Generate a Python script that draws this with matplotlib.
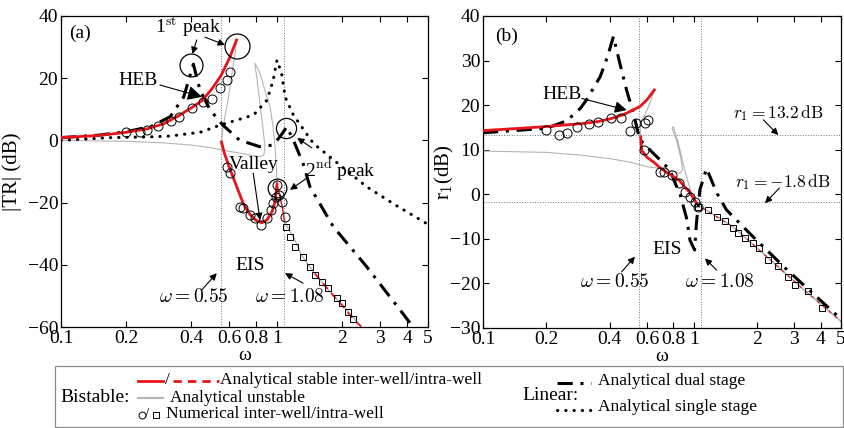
import numpy as np
import matplotlib
matplotlib.use("Agg")
import matplotlib.pyplot as plt
from matplotlib.lines import Line2D
from matplotlib.patches import Rectangle

plt.rcParams['font.family'] = ['Liberation Serif', 'DejaVu Serif']
plt.rcParams['mathtext.fontset'] = 'cm'

W, H = 844, 428

# ---------------- panel (a) data ----------------
a_red_up_w = [0.1, 0.15, 0.2, 0.25, 0.3, 0.35, 0.4, 0.45, 0.5, 0.55, 0.6, 0.65]
a_red_up_v = [0.9, 1.6, 2.6, 3.7, 5.4, 7.9, 10.4, 12.8, 16.6, 20.8, 26.2, 32.3]
a_red_low_w = [0.553, 0.57, 0.6, 0.62, 0.66, 0.7, 0.75, 0.8, 0.85, 0.9, 0.95, 0.98, 1.0]
a_red_low_v = [-0.5, -4.0, -8.5, -11.0, -16.0, -20.5, -23.8, -25.7, -26.5, -25.5, -22.8, -19.7, -14.0]
a_red_intra_w = [1.0, 1.03, 1.06, 1.08]
a_red_intra_v = [-14.0, -18.0, -22.0, -26.0]
a_red_tail_w = [1.5, 1.75, 2.0, 2.25, 2.47]
a_red_tail_v = [-42.8, -48.5, -53.0, -57.5, -60.0]
a_gray_w = [0.1, 0.2, 0.3, 0.4, 0.5, 0.55, 0.6, 0.7, 0.78, 0.84, 0.87, 0.88, 0.86, 0.834,
            0.81, 0.79, 0.81, 0.834, 0.88, 0.929, 0.96, 0.979, 0.995, 1.0]
a_gray_v = [0, -0.3, -0.8, -1.5, -2.4, -3.0, -3.5, -4.3, -4.9, -5.2, -4.6, -2.0, 4.0, 11.9,
            19.0, 24.8, 23.5, 21.6, 16.0, 10.8, 4.0, -2.0, -9.5, -14.0]
a_gray2_w = [0.65, 0.64, 0.62, 0.606, 0.59, 0.575, 0.563, 0.555]
a_gray2_v = [32.0, 28.0, 22.0, 17.0, 12.0, 8.0, 4.4, 0.0]
a_gray_tail_w = [1.0, 1.05, 1.1, 1.2, 1.3, 1.5, 1.7, 2.0, 2.2, 2.45]
a_gray_tail_v = [-14.0, -20.0, -27.0, -31.5, -37.0, -43.0, -47.5, -53.0, -56.0, -60.0]
a_single_w = [0.1, 0.17, 0.25, 0.32, 0.44, 0.55, 0.65, 0.78, 0.9, 0.96, 1.0, 1.05, 1.09,
              1.19, 1.47, 2.0, 2.6, 3.5, 5.0]
a_single_v = [0, 0.9, 1.1, 1.4, 2.6, 5.0, 6.5, 8.2, 13.0, 19.4, 25.8, 21.6, 14.0, 8.2, -0.9,
              -8.5, -14.9, -20.6, -27.0]
a_dual_w = [0.1, 0.15, 0.2, 0.26, 0.32, 0.37, 0.41, 0.44, 0.49, 0.56, 0.67, 0.83, 0.96,
            1.04, 1.11, 1.19, 1.32, 1.42, 1.82, 2.6, 4.27]
a_dual_v = [0.9, 1.7, 2.8, 4.4, 7.6, 14.0, 24.5, 16.2, 9.8, 5.0, 0.1, -2.0, -1.5, 1.5, 4.4,
            0.1, -7.4, -14.9, -27.7, -40.6, -60.0]
a_circ_w = [0.2, 0.232, 0.249, 0.282, 0.322, 0.353, 0.404, 0.453, 0.502, 0.545, 0.585, 0.606,
            0.585, 0.606, 0.673, 0.698, 0.75, 0.79, 0.847, 0.9, 0.935, 0.96, 0.99, 1.0,
            1.02, 1.05, 1.09]
a_circ_v = [2.6, 2.6, 3.3, 4.6, 6.3, 7.6, 10.3, 12.4, 13.2, 16.8, 19.4, 22.1, -8.5, -10.6,
            -21.3, -21.8, -24.0, -25.0, -27.2, -25.0, -22.4, -20.2, -18.1, -14.3, -17.6,
            -19.7, -24.7]
a_sq_w = [1.10, 1.15, 1.21, 1.32, 1.42, 1.50, 1.61, 1.73, 1.89, 1.99, 2.13, 2.25]
a_sq_v = [-27.7, -31.2, -34.2, -37.4, -40.6, -43.3, -45.4, -47.6, -50.8, -52.4, -55.1, -57.5]

# ---------------- panel (b) data ----------------
b_red_up_w = [0.1, 0.15, 0.2, 0.3, 0.35, 0.4, 0.46, 0.5, 0.556, 0.6, 0.65]
b_red_up_v = [14.3, 14.8, 15.2, 15.9, 16.3, 16.9, 17.8, 18.6, 19.7, 21.2, 23.4]
b_red_low_w = [0.56, 0.566, 0.6, 0.65, 0.69, 0.75, 0.8, 0.86, 0.9, 0.95, 0.98, 1.01, 1.03]
b_red_low_v = [12.9, 9.9, 8.3, 7.1, 6.0, 4.8, 4.0, 3.0, 1.8, 0.6, -0.3, -1.3, -2.0]
b_tail_w = [1.03, 1.05, 1.54, 2.22, 3.2, 5.0]
b_tail_v = [-2.0, -2.5, -7.3, -14.0, -20.7, -28.5]
b_gray_w = [0.1, 0.2, 0.29, 0.4, 0.5, 0.556, 0.6, 0.69, 0.8, 0.86, 0.885, 0.87, 0.83, 0.79,
            0.8, 0.84, 0.9, 0.95, 0.98, 1.0]
b_gray_v = [9.7, 9.4, 8.8, 8.0, 7.2, 6.6, 6.2, 5.8, 5.2, 4.7, 5.5, 8.0, 12.0, 14.8, 15.2,
            12.0, 6.0, 2.0, 0.2, -1.3]
b_gray2_w = [0.65, 0.62, 0.587, 0.565, 0.556, 0.56]
b_gray2_v = [23.3, 20.5, 17.8, 16.5, 15.9, 13.0]
b_dual_w = [0.1, 0.2, 0.25, 0.29, 0.31, 0.36, 0.39, 0.416, 0.446, 0.48, 0.517, 0.555, 0.58,
            0.63, 0.7, 0.77, 0.83, 0.86, 0.93, 0.96, 1.01, 1.03, 1.07, 1.15, 1.29, 1.43,
            1.91, 2.78, 5.0]
b_dual_v = [13.8, 14.8, 16.5, 19.3, 21.2, 26.4, 30.9, 35.4, 29.4, 23.4, 18.2, 12.2, 11.4,
            9.6, 7.5, 5.5, 1.7, 0.2, -5.8, -10.3, -12.5, -6.5, 1.0, 5.8, 0.2, -3.5, -9.5,
            -17.0, -28.0]
b_circ_w = [0.2, 0.23, 0.25, 0.28, 0.32, 0.35, 0.405, 0.45, 0.50, 0.535, 0.58, 0.59, 0.61,
            0.69, 0.72, 0.79, 0.85, 0.91, 0.96, 1.01, 1.05]
b_circ_v = [14.4, 13.3, 13.8, 15.2, 15.7, 16.2, 17.2, 17.2, 14.1, 15.9, 9.9, 16.0, 16.7,
            5.1, 4.9, 4.3, 2.5, 0.6, -0.5, -1.7, -2.8]
b_sq_w = [1.05, 1.17, 1.29, 1.41, 1.54, 1.63, 1.75, 1.92, 2.03, 2.26, 2.52, 2.81, 3.03, 3.5, 4.05]
b_sq_v = [-2.8, -3.5, -5.0, -6.1, -7.6, -8.7, -9.9, -11.0, -12.1, -14.7, -16.2, -18.5,
          -20.3, -21.8, -25.6]

xticks = [0.1, 0.2, 0.4, 0.6, 0.8, 1, 2, 3, 4, 5]
xticklabels = ['0.1', '0.2', '0.4', '0.6', '0.8', '1', '2', '3', '4', '5']
w_eis = [0.55, 1.08]
r1_levels = [13.2, -1.8]

RED = '#e8141b'
GRAY = '#b4b4b4'
DASHDOT = (0, (5, 2.5, 1, 2.5))
DOTTED = (0, (0.1, 2.6))


def px_axes(x0, y0, x1, y1):
    return [x0 / W, 1 - y1 / H, (x1 - x0) / W, (y1 - y0) / H]


def style_axes(ax, ylim, yticks):
    ax.set_xscale('log')
    ax.set_xlim(0.1, 5)
    ax.set_ylim(*ylim)
    ax.set_xticks(xticks)
    ax.set_xticklabels(xticklabels)
    ax.minorticks_off()
    ax.set_yticks(yticks)
    ax.set_yticklabels([str(t).replace('-', '\u2212') for t in yticks])
    ax.tick_params(direction='in', top=True, right=True, length=4, width=0.8,
                   labelsize=14, pad=2)
    for s in ax.spines.values():
        s.set_linewidth(0.9)
    ax.set_xlabel('ω', fontsize=14, labelpad=0)


def circ(ax, x, y, size):
    ax.plot([x], [y], 'o', ms=size, mfc='none', mec='k', mew=0.9, zorder=6)


def arrow(ax, tail, tip, scale=10):
    ax.annotate('', xy=tip, xytext=tail,
                arrowprops=dict(arrowstyle='-|>', color='k', lw=0.8, mutation_scale=scale,
                                shrinkA=0, shrinkB=0), zorder=7)


fig = plt.figure(figsize=(W / 100, H / 100), dpi=100)
ax1 = fig.add_axes(px_axes(61, 16, 428, 327))
ax2 = fig.add_axes(px_axes(483, 16, 841, 328))

# ---------------- panel (a) ----------------
for w in w_eis:
    ax1.axvline(w, color='0.45', ls=':', lw=0.7, zorder=1)
ax1.plot(a_gray_w, a_gray_v, color=GRAY, lw=0.8, zorder=2)
ax1.plot(a_gray2_w, a_gray2_v, color=GRAY, lw=0.8, zorder=2)
ax1.plot(a_gray_tail_w, a_gray_tail_v, color=GRAY, lw=1.0, zorder=2)
ax1.plot(a_single_w, a_single_v, color='k', ls=DOTTED, lw=2.2, dash_capstyle='round', zorder=3)
ax1.plot(a_dual_w, a_dual_v, color='k', ls=DASHDOT, lw=2.2, zorder=3)
ax1.plot(a_red_up_w, a_red_up_v, color=RED, lw=2.0, zorder=4)
ax1.plot(a_red_low_w, a_red_low_v, color=RED, lw=2.0, zorder=4)
ax1.plot(a_red_intra_w, a_red_intra_v, color=RED, lw=0.9, zorder=4)
ax1.plot(a_red_tail_w, a_red_tail_v, color=RED, lw=1.3, ls=(0, (4, 3)), zorder=4)
ax1.plot(a_circ_w, a_circ_v, 'o', ms=6.5, mfc='none', mec='k', mew=0.7, zorder=5)
ax1.plot(a_sq_w, a_sq_v, 's', ms=5, mfc='none', mec='k', mew=0.7, zorder=5)
style_axes(ax1, (-60, 40), [-60, -40, -20, 0, 20, 40])
ax1.set_ylabel('|TR| (dB)', fontsize=15)
ax1.yaxis.set_label_coords(-0.105, 0.5)

circ(ax1, 0.40, 24.2, 16.5)
circ(ax1, 0.65, 30.5, 18)
circ(ax1, 1.105, 3.9, 14.5)
circ(ax1, 1.0, -15.4, 13.5)

ax1.text(0.122, 34.5, '(a)', fontsize=14, ha='center', va='center')
ax1.text(0.387, 36.5, '1$^{\\rm st}$ peak', fontsize=14, ha='center', va='center')
arrow(ax1, (0.425, 32.3), (0.406, 27.8))
arrow(ax1, (0.464, 33.2), (0.574, 30.7))
ax1.text(0.228, 19.4, 'HEB', fontsize=14, ha='center', va='center')
arrow(ax1, (0.287, 17.8), (0.45, 14.0), scale=22)
ax1.text(0.776, -7.9, 'Valley', fontsize=14, ha='center', va='center')
arrow(ax1, (0.776, -10.5), (0.834, -25.6))
ax1.text(1.96, -9.5, '2$^{\\rm nd}$ peak', fontsize=14, ha='center', va='center')
arrow(ax1, (1.45, -2.4), (1.24, 0.8))
arrow(ax1, (1.37, -12.2), (1.148, -15.9))
ax1.text(0.75, -40.1, 'EIS', fontsize=14, ha='center', va='center')
ax1.text(0.41, -50.3, r'$\omega = 0.55$', fontsize=14, ha='center', va='center')
arrow(ax1, (0.448, -48.1), (0.526, -42.7))
ax1.text(1.148, -50.3, r'$\omega = 1.08$', fontsize=14, ha='center', va='center')
arrow(ax1, (1.32, -45.9), (1.089, -42.7))

# ---------------- panel (b) ----------------
for w in w_eis:
    ax2.axvline(w, color='0.45', ls=':', lw=0.7, zorder=1)
for r in r1_levels:
    ax2.axhline(r, color='0.45', ls=':', lw=0.7, zorder=1)
ax2.plot(b_gray_w, b_gray_v, color=GRAY, lw=0.8, zorder=2)
ax2.plot(b_gray2_w, b_gray2_v, color=GRAY, lw=0.8, zorder=2)
ax2.plot(b_tail_w, b_tail_v, color=GRAY, lw=1.2, zorder=2)
ax2.plot(b_tail_w, b_tail_v, color=RED, lw=0.8, ls=(0, (3, 4)), zorder=2)
ax2.plot(b_dual_w, b_dual_v, color='k', ls=DASHDOT, lw=2.2, zorder=3)
ax2.plot(b_red_up_w, b_red_up_v, color=RED, lw=2.0, zorder=4)
ax2.plot(b_red_low_w, b_red_low_v, color=RED, lw=2.0, zorder=4)
ax2.plot(b_circ_w, b_circ_v, 'o', ms=6.5, mfc='none', mec='k', mew=0.7, zorder=5)
ax2.plot(b_sq_w, b_sq_v, 's', ms=5, mfc='none', mec='k', mew=0.7, zorder=5)
style_axes(ax2, (-30, 40), [-30, -20, -10, 0, 10, 20, 30, 40])
ax2.set_ylabel('r$_1$(dB)', fontsize=15)
ax2.yaxis.set_label_coords(-0.075, 0.5)

ax2.text(0.1296, 35.4, '(b)', fontsize=14, ha='center', va='center')
ax2.text(0.236, 22.3, 'HEB', fontsize=14, ha='center', va='center')
arrow(ax2, (0.294, 21.5), (0.481, 18.9), scale=18)
ax2.text(2.52, 18.2, r'$r_1 = 13.2\,\mathrm{dB}$', fontsize=12.5, ha='center', va='center')
arrow(ax2, (2.14, 16.7), (2.52, 13.3))
ax2.text(2.66, 2.8, r'$r_1 = -1.8\,\mathrm{dB}$', fontsize=12.5, ha='center', va='center')
arrow(ax2, (2.55, 1.4), (2.18, -2.0))
ax2.text(0.745, -12.5, 'EIS', fontsize=14, ha='center', va='center')
ax2.text(0.423, -19.6, r'$\omega = 0.55$', fontsize=14, ha='center', va='center')
arrow(ax2, (0.455, -17.4), (0.526, -14.0))
ax2.text(1.33, -19.6, r'$\omega = 1.08$', fontsize=14, ha='center', va='center')
arrow(ax2, (1.285, -17.0), (1.13, -14.4))

# ---------------- legend box (figure pixels) ----------------
def fx(x):
    return x / W


def fy(y):
    return 1 - y / H


fig.add_artist(Rectangle((fx(55), fy(427)), fx(788), 61 / H, fill=False,
                         ec='0.55', lw=0.9, transform=fig.transFigure))


def leg_line(x0, x1, y, **kw):
    fig.add_artist(Line2D([fx(x0), fx(x1)], [fy(y), fy(y)], transform=fig.transFigure, **kw))


def leg_text(x, y, s, size=12.5):
    fig.text(fx(x), fy(y), s, fontsize=size, ha='left', va='center')


leg_text(60, 398, 'Bistable:', 14)
leg_line(138, 163, 381, color=RED, lw=2.0)
leg_text(165, 380, '/')
leg_line(173, 219, 381, color=RED, lw=2.0, ls=(0, (3, 2.2)))
leg_text(220, 380, 'Analytical stable inter-well/intra-well')
leg_line(138, 163, 398, color=GRAY, lw=1.5)
leg_text(170, 398, 'Analytical unstable')
fig.add_artist(Line2D([fx(142)], [fy(415)], marker='o', ms=5, mfc='none', mec='k', mew=0.7,
                      transform=fig.transFigure))
leg_text(145, 414, '/', 11)
fig.add_artist(Line2D([fx(156)], [fy(415)], marker='s', ms=4.5, mfc='none', mec='k', mew=0.7,
                      transform=fig.transFigure))
leg_text(166, 414, 'Numerical inter-well/intra-well')
leg_text(522, 396, 'Linear:', 14)
leg_line(557, 591, 383, color='k', lw=2.2, ls=DASHDOT)
leg_text(598, 381, 'Analytical dual stage')
leg_line(557, 595, 410, color='k', lw=2.2, ls=DOTTED, dash_capstyle='round')
leg_text(598, 407, 'Analytical single stage')

fig.savefig('out.png', dpi=100)
